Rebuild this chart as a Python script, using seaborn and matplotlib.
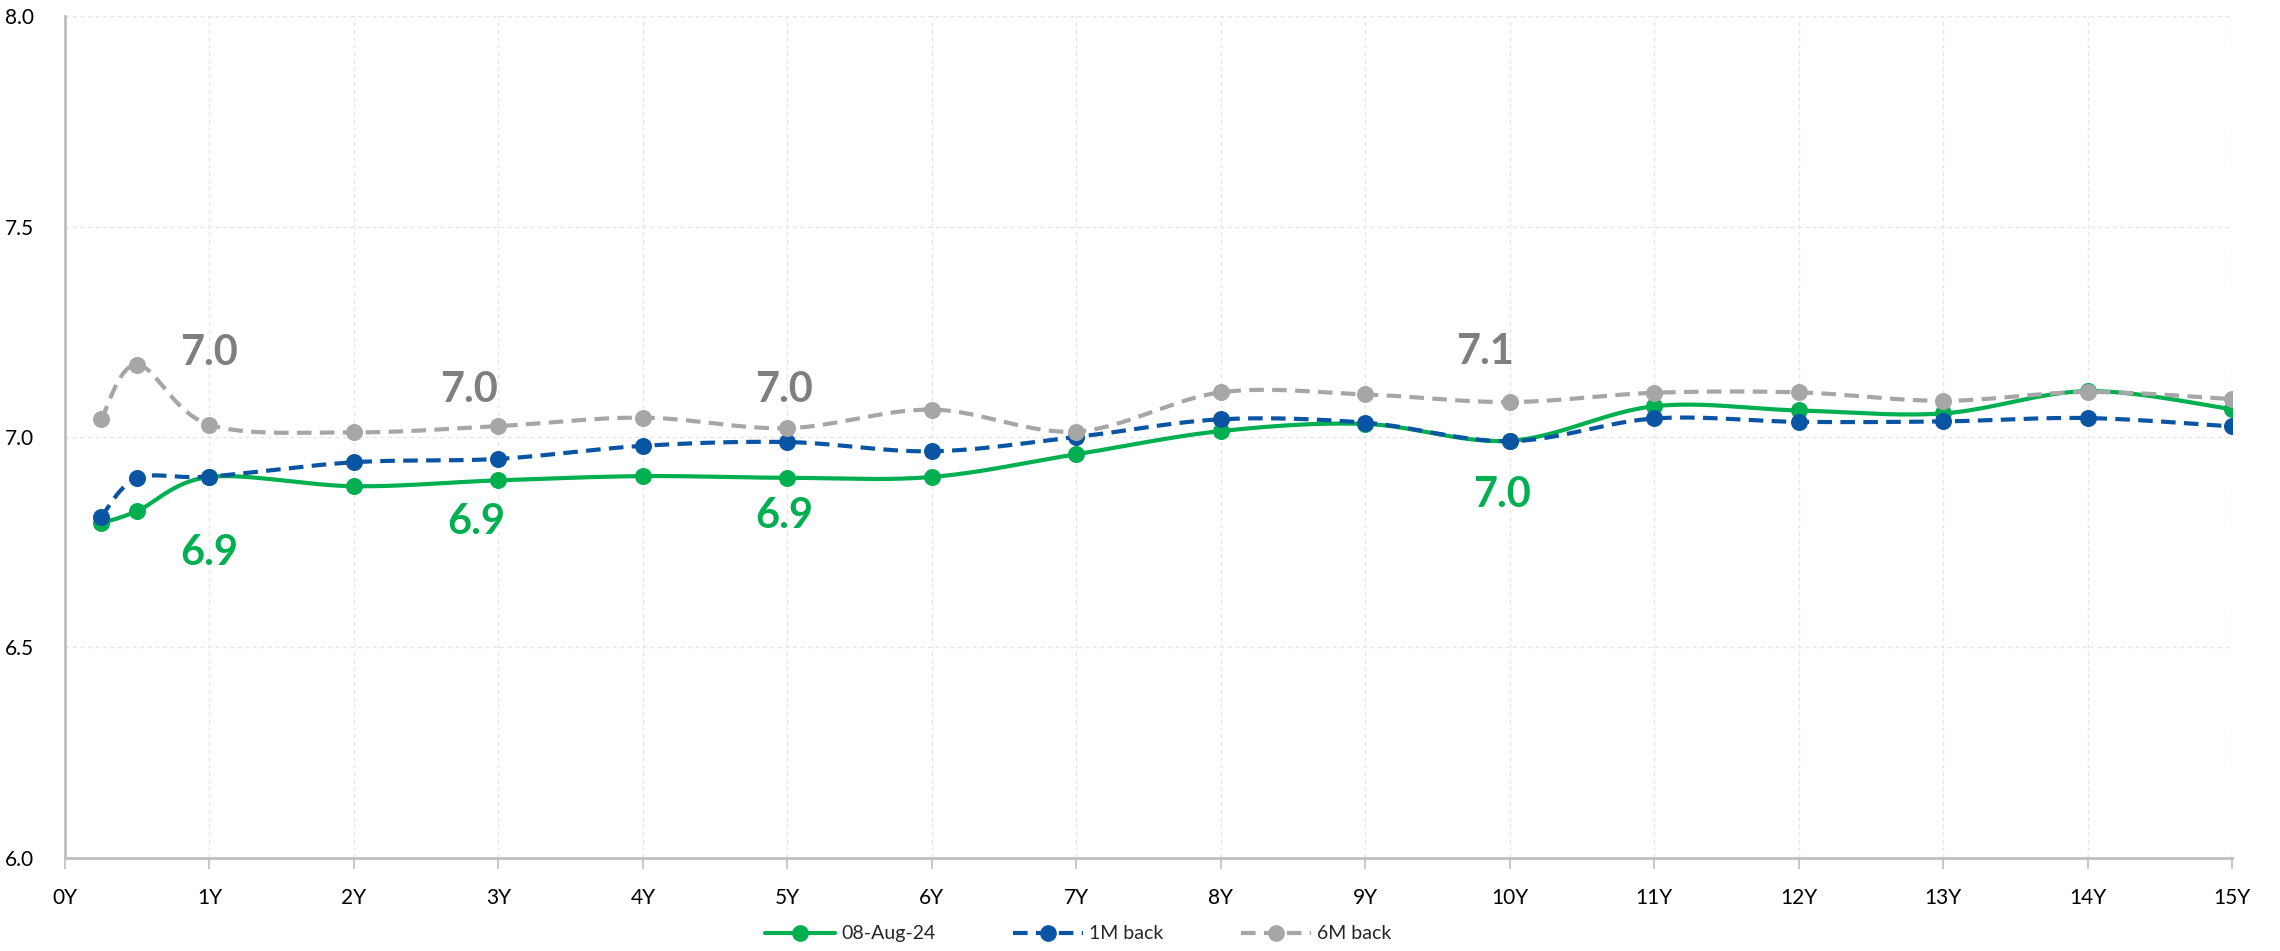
import numpy as np
import pandas as pd
import matplotlib
matplotlib.use("Agg")
import matplotlib.pyplot as plt
from matplotlib.lines import Line2D
import seaborn as sns

# ---------------------------------------------------------------------------
# data
# ---------------------------------------------------------------------------
tenor_years = [0.25, 0.5, 1, 2, 3, 4, 5, 6, 7, 8, 9, 10, 11, 12, 13, 14, 15]
tick_labels = [f"{i}Y" for i in range(16)]

yield_today = [6.795, 6.824, 6.905, 6.883, 6.897, 6.907, 6.903, 6.905, 6.959,
               7.014, 7.031, 6.991, 7.073, 7.063, 7.056, 7.109, 7.066]
yield_1m = [6.810, 6.902, 6.906, 6.940, 6.948, 6.979, 6.988, 6.966, 7.000,
            7.042, 7.034, 6.990, 7.044, 7.036, 7.037, 7.045, 7.025]
yield_6m = [7.042, 7.172, 7.029, 7.011, 7.026, 7.046, 7.021, 7.065, 7.013,
            7.106, 7.101, 7.083, 7.105, 7.106, 7.086, 7.107, 7.090]

series_names = ["08-Aug-24", "1M back", "6M back"]

# which points get a data label, and where the label sits (offset in data units)
label_idx = [2, 4, 6, 11]
label_dx_green = [0.0, -0.15, -0.02, -0.05]
label_dy_green = [-0.18, -0.10, -0.09, -0.13]
label_dx_gray = [0.0, -0.2, -0.02, -0.17]
label_dy_gray = [0.17, 0.086, 0.09, 0.12]

GREEN = "#00B050"
BLUE = "#0A55A3"
GRAY = "#A6A6A6"
GRAY_TXT = "#7F7F7F"


def smooth_curve(xs, ys, n=30):
    # excel-style smoothed line: catmull-rom converted to cubic beziers
    p = np.column_stack([xs, ys]).astype(float)
    out = []
    for i in range(len(p) - 1):
        p0 = p[i - 1] if i > 0 else p[i]
        p1, p2 = p[i], p[i + 1]
        p3 = p[i + 2] if i + 2 < len(p) else p[i + 1]
        c1 = p1 + (p2 - p0) / 6.0
        c2 = p2 - (p3 - p1) / 6.0
        t = np.linspace(0, 1, n, endpoint=(i == len(p) - 2))[:, None]
        seg = ((1 - t) ** 3) * p1 + 3 * ((1 - t) ** 2) * t * c1 + 3 * (1 - t) * t ** 2 * c2 + t ** 3 * p2
        out.append(seg)
    out = np.vstack(out)
    return out[:, 0], out[:, 1]


sns.set_theme(style="white")
plt.rcParams["font.family"] = ["Lato", "DejaVu Sans"]

fig = plt.figure(figsize=(22.8, 9.51), dpi=100)
ax = fig.add_axes([0.0285, 0.098, 0.9505, 0.885])

styles = [
    (yield_today, GREEN, (None, None), 1),
    (yield_1m, BLUE, (3.5, 2.0), 2),
    (yield_6m, GRAY, (3.5, 2.0), 3),
]

for (vals, color, dash, z), name in zip(styles, series_names):
    sx, sy = smooth_curve(tenor_years, vals)
    curve = pd.DataFrame({"x": sx, "y": sy})
    sns.lineplot(data=curve, x="x", y="y", sort=False, color=color,
                 linewidth=3, ax=ax, zorder=z)
    if dash[0] is not None:
        ax.lines[-1].set_dashes(dash)
    pts = pd.DataFrame({"x": tenor_years, "y": vals})
    sns.scatterplot(data=pts, x="x", y="y", color=color, s=150,
                    edgecolor=color, linewidth=0, ax=ax, zorder=z + 0.5)

# data labels
for k, i in enumerate(label_idx):
    ax.text(tenor_years[i] + label_dx_green[k], yield_today[i] + label_dy_green[k],
            f"{yield_today[i]:.1f}", color=GREEN, fontsize=30, fontweight="bold",
            ha="center", va="center", zorder=5)
    ax.text(tenor_years[i] + label_dx_gray[k], yield_6m[i] + label_dy_gray[k],
            f"{yield_6m[i]:.1f}", color=GRAY_TXT, fontsize=30, fontweight="bold",
            ha="center", va="center", zorder=5)

ax.set_xlim(0, 15)
ax.set_ylim(6.0, 8.0)
ax.set_xticks(range(16))
ax.set_xticklabels(tick_labels)
ax.set_yticks([6.0, 6.5, 7.0, 7.5, 8.0])
ax.set_yticklabels(["6.0", "6.5", "7.0", "7.5", "8.0"])
ax.set_xlabel("")
ax.set_ylabel("")

ax.grid(True, color="#E4E4E4", linestyle=(0, (3, 3)), linewidth=0.9)
ax.set_axisbelow(True)
for side in ["top", "right"]:
    ax.spines[side].set_visible(False)
for side in ["left", "bottom"]:
    ax.spines[side].set_color("#BFBFBF")
    ax.spines[side].set_linewidth(2)

ax.tick_params(axis="x", which="both", bottom=True, length=8, width=1.2,
               color="#BFBFBF", labelsize=15, pad=14, labelcolor="black")
ax.tick_params(axis="y", left=False, labelsize=15, pad=16, labelcolor="black")

# legend
handles = [
    Line2D([], [], color=GREEN, lw=3, marker="o", markersize=11),
    Line2D([], [], color=BLUE, lw=3, marker="o", markersize=11, dashes=(3.5, 2.0)),
    Line2D([], [], color=GRAY, lw=3, marker="o", markersize=11, dashes=(3.5, 2.0)),
]
fig.legend(handles, series_names, loc="center", bbox_to_anchor=(0.473, 0.018),
           ncol=3, frameon=False, fontsize=14, handlelength=3.6,
           columnspacing=4.0, handletextpad=0.3)

fig.savefig("out.png", dpi=100)
plt.close(fig)
